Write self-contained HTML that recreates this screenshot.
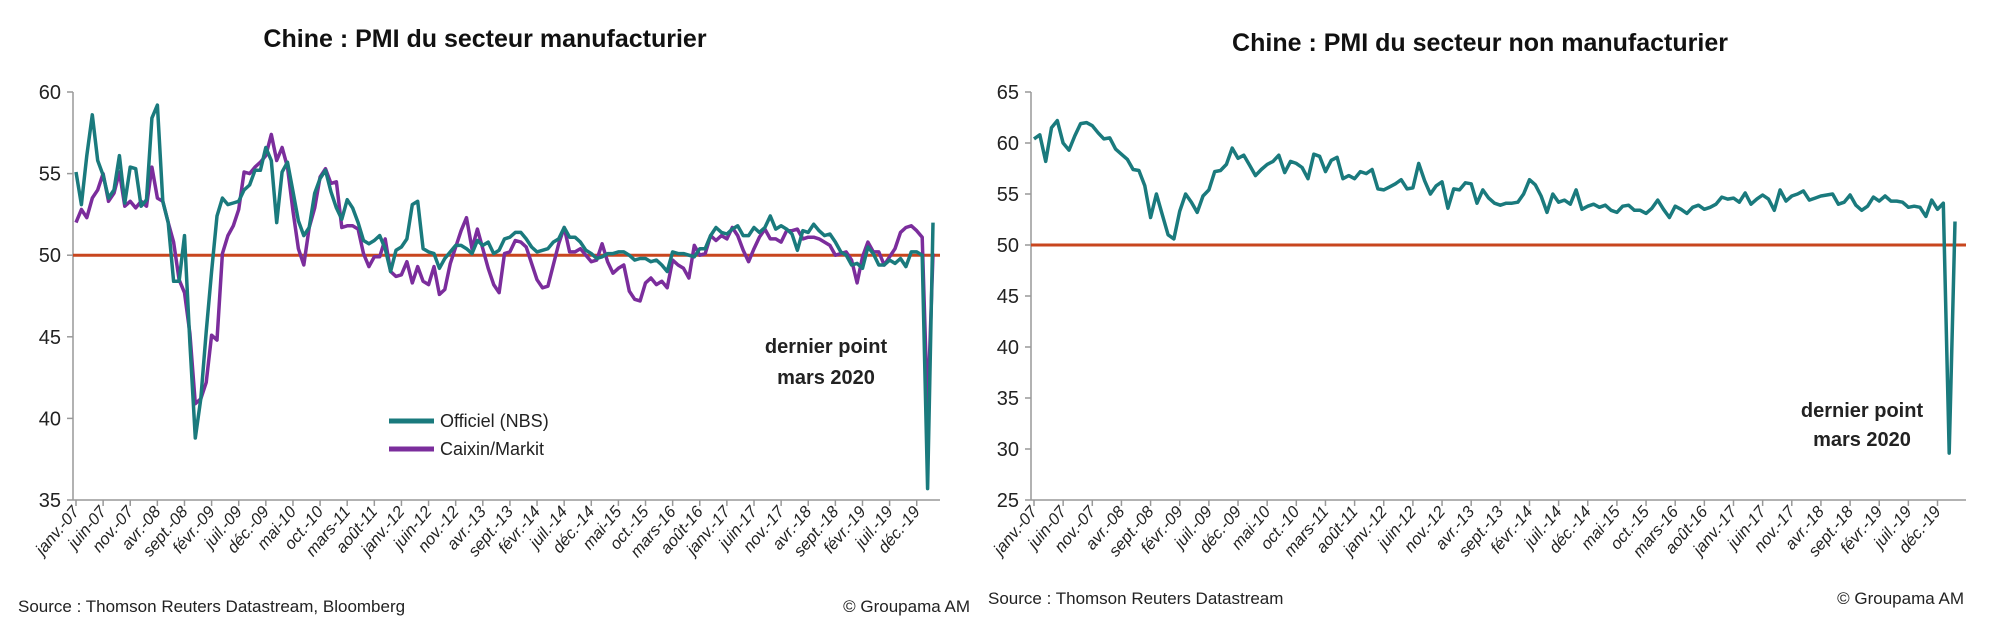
<!DOCTYPE html>
<html><head><meta charset="utf-8"><style>
body{margin:0;background:#fff;width:2000px;height:622px;overflow:hidden;font-family:"Liberation Sans",sans-serif}
svg text{font-family:"Liberation Sans",sans-serif}
</style></head><body>
<svg id="c" width="2000" height="622" viewBox="0 0 2000 622" xmlns="http://www.w3.org/2000/svg">
<text x="485" y="47" text-anchor="middle" font-size="25" font-weight="bold" fill="#111">Chine : PMI du secteur manufacturier</text>
<text x="1480" y="51" text-anchor="middle" font-size="25" font-weight="bold" fill="#111">Chine : PMI du secteur non manufacturier</text>
<text x="18" y="612" font-size="17" fill="#222">Source : Thomson Reuters Datastream, Bloomberg</text>
<text x="970" y="612" text-anchor="end" font-size="17" fill="#222">© Groupama AM</text>
<text x="988" y="604" font-size="17" fill="#222">Source : Thomson Reuters Datastream</text>
<text x="1964" y="604" text-anchor="end" font-size="17" fill="#222">© Groupama AM</text>
<text x="826" y="353" text-anchor="middle" font-size="20" font-weight="bold" fill="#222">dernier point</text>
<text x="826" y="384" text-anchor="middle" font-size="20" font-weight="bold" fill="#222">mars 2020</text>
<text x="1862" y="417" text-anchor="middle" font-size="20" font-weight="bold" fill="#222">dernier point</text>
<text x="1862" y="446" text-anchor="middle" font-size="20" font-weight="bold" fill="#222">mars 2020</text>
<line x1="389" y1="421" x2="434" y2="421" stroke="#1a7a7d" stroke-width="5"/>
<text x="440" y="427" font-size="18" fill="#222">Officiel (NBS)</text>
<line x1="389" y1="449" x2="434" y2="449" stroke="#7b2d9c" stroke-width="5"/>
<text x="440" y="455" font-size="18" fill="#222">Caixin/Markit</text>
</svg>
<script>
const nbsManuf=[55.1,53.1,56.1,58.6,55.8,54.9,53.5,54.0,56.1,53.2,55.4,55.3,
53.0,53.4,58.4,59.2,53.3,52.0,48.4,48.4,51.2,44.6,38.8,41.2,
45.3,49.0,52.4,53.5,53.1,53.2,53.3,54.0,54.3,55.2,55.2,56.6,
55.8,52.0,55.1,55.7,53.9,52.1,51.2,51.7,53.8,54.7,55.2,53.9,
52.9,52.2,53.4,52.9,52.0,50.9,50.7,50.9,51.2,50.4,49.0,50.3,
50.5,51.0,53.1,53.3,50.4,50.2,50.1,49.2,49.8,50.2,50.6,50.6,
50.4,50.1,50.9,50.6,50.8,50.1,50.3,51.0,51.1,51.4,51.4,51.0,
50.5,50.2,50.3,50.4,50.8,51.0,51.7,51.1,51.1,50.8,50.3,50.1,
49.8,49.9,50.1,50.1,50.2,50.2,50.0,49.7,49.8,49.8,49.6,49.7,
49.4,49.0,50.2,50.1,50.1,50.0,49.9,50.4,50.4,51.2,51.7,51.4,
51.3,51.6,51.8,51.2,51.2,51.7,51.4,51.7,52.4,51.6,51.8,51.6,
51.3,50.3,51.5,51.4,51.9,51.5,51.2,51.3,50.8,50.2,50.0,49.4,
49.5,49.2,50.5,50.1,49.4,49.4,49.7,49.5,49.8,49.3,50.2,50.2,
50.0,35.7,52.0];
const caixinManuf=[52.0,52.8,52.3,53.5,54.0,55.0,53.3,53.8,55.1,53.0,53.3,52.9,
53.3,53.0,55.4,53.5,53.3,52.0,50.8,48.5,47.7,45.2,40.9,41.2,
42.2,45.1,44.8,50.1,51.2,51.8,52.8,55.1,55.0,55.4,55.7,56.1,
57.4,55.8,56.6,55.4,52.7,50.4,49.4,51.7,52.9,54.8,55.3,54.4,
54.5,51.7,51.8,51.8,51.6,50.1,49.3,49.9,49.9,51.0,49.0,48.7,
48.8,49.6,48.3,49.3,48.4,48.2,49.3,47.6,47.9,49.5,50.5,51.5,
52.3,50.4,51.6,50.4,49.2,48.2,47.7,50.1,50.2,50.9,50.8,50.5,
49.5,48.5,48.0,48.1,49.4,50.7,51.7,50.2,50.2,50.4,50.0,49.6,
49.7,50.7,49.6,48.9,49.2,49.4,47.8,47.3,47.2,48.3,48.6,48.2,
48.4,48.0,49.7,49.4,49.2,48.6,50.6,50.0,50.1,51.2,50.9,51.2,
51.0,51.7,51.2,50.3,49.6,50.4,51.1,51.6,51.0,51.0,50.8,51.5,
51.5,51.6,51.0,51.1,51.1,51.0,50.8,50.6,50.0,50.1,50.2,49.7,
48.3,49.9,50.8,50.2,50.2,49.4,49.9,50.4,51.4,51.7,51.8,51.5,
51.1,40.3,50.1];
const nbsNonManuf=[60.4,60.8,58.2,61.5,62.2,60.0,59.3,60.7,61.9,62.0,61.7,61.0,
60.4,60.5,59.4,58.9,58.4,57.4,57.3,55.8,52.7,55.0,53.0,51.0,
50.6,53.3,55.0,54.2,53.2,54.8,55.4,57.2,57.3,57.9,59.5,58.5,
58.8,57.8,56.8,57.4,57.9,58.2,58.8,57.1,58.2,58.0,57.6,56.5,
58.9,58.7,57.2,58.3,58.6,56.5,56.8,56.5,57.2,57.0,57.4,55.5,
55.4,55.7,56.0,56.4,55.5,55.6,58.0,56.3,55.0,55.8,56.2,53.6,
55.5,55.4,56.1,56.0,54.1,55.4,54.6,54.1,53.9,54.1,54.1,54.2,
55.0,56.4,55.9,54.8,53.2,55.0,54.2,54.4,54.0,55.4,53.5,53.8,
54.0,53.7,53.9,53.4,53.2,53.8,53.9,53.4,53.4,53.1,53.6,54.4,
53.5,52.7,53.8,53.5,53.1,53.7,53.9,53.5,53.7,54.0,54.7,54.5,
54.6,54.2,55.1,54.0,54.5,54.9,54.5,53.4,55.4,54.3,54.8,55.0,
55.3,54.4,54.6,54.8,54.9,55.0,54.0,54.2,54.9,53.9,53.4,53.8,
54.7,54.3,54.8,54.3,54.3,54.2,53.7,53.8,53.7,52.8,54.4,53.5,
54.1,29.6,52.3];
const tickLabels=["janv.-07","juin-07","nov.-07","avr.-08","sept.-08","févr.-09","juil.-09","déc.-09","mai-10","oct.-10","mars-11","août-11","janv.-12","juin-12","nov.-12","avr.-13","sept.-13","févr.-14","juil.-14","déc.-14","mai-15","oct.-15","mars-16","août-16","janv.-17","juin-17","nov.-17","avr.-18","sept.-18","févr.-19","juil.-19","déc.-19"];
const leftYTicks=[35,40,45,50,55,60];
const rightYTicks=[25,30,35,40,45,50,55,60,65];
const refLevel=50;

const svg=document.getElementById('c');
const NS='http://www.w3.org/2000/svg';
function mk(tag,attrs){const e=document.createElementNS(NS,tag);for(const k in attrs)e.setAttribute(k,attrs[k]);svg.appendChild(e);return e;}

function chart(p,series){
  const n=series[0].data.length;
  const xs=i=>p.x0+(p.x1-p.x0)*i/(n-1);
  const ys=v=>p.yb-(v-p.ymin)/(p.ymax-p.ymin)*(p.yb-p.yt);
  const ax=mk('line',{x1:p.ax,y1:p.yt,x2:p.ax,y2:p.yb,stroke:'#999','stroke-width':1.5});
  
  
  const bx=mk('line',{x1:p.ax,y1:p.yb,x2:p.axEnd,y2:p.yb,stroke:'#999','stroke-width':1.5});
  
  
  p.yticks.forEach(v=>{
    const y=ys(v);
    mk('line',{x1:p.ax-6,y1:y,x2:p.ax,y2:y,stroke:'#999','stroke-width':1.5});
    const t=mk('text',{x:p.ax-12,y:y+7,'text-anchor':'end','font-size':20,fill:'#222'});
    t.textContent=v;
    
    
  });
  tickLabels.forEach((lab,k)=>{
    const x=xs(k*5);
    mk('line',{x1:x,y1:p.yb,x2:x,y2:p.yb+6,stroke:'#999','stroke-width':1.5});
    const t=mk('text',{x:x+4,y:p.yb+12,'text-anchor':'end','font-size':16.5,'font-style':'italic',fill:'#222',transform:`rotate(-50 ${x+4} ${p.yb+12})`});
    t.textContent=lab;
    
    
  });
  const r=mk('line',{x1:p.ax,y1:ys(refLevel),x2:p.axEnd,y2:ys(refLevel),stroke:'#c8461e','stroke-width':3});
  
  
  series.forEach(s=>{
    const d=s.data.map((v,i)=>(i?'L':'M')+xs(i).toFixed(1)+' '+ys(v).toFixed(1)).join(' ');
    const pl=mk('path',{d:d,fill:'none',stroke:s.color,'stroke-width':3.5,'stroke-linejoin':'round'});
    
    
  });
}
chart({name:'left',ax:73,axEnd:940,x0:76,x1:933,yt:92,yb:500,ymin:35,ymax:60,yticks:leftYTicks},
 [{data:caixinManuf,color:'#7b2d9c',name:'caixin-line'},{data:nbsManuf,color:'#1a7a7d',name:'nbs-manufacturing-line'}]);
chart({name:'right',ax:1031,axEnd:1966,x0:1034,x1:1955,yt:92,yb:500,ymin:25,ymax:65,yticks:rightYTicks},
 [{data:nbsNonManuf,color:'#1a7a7d',name:'nbs-non-manufacturing-line'}]);
</script>
</body></html>
